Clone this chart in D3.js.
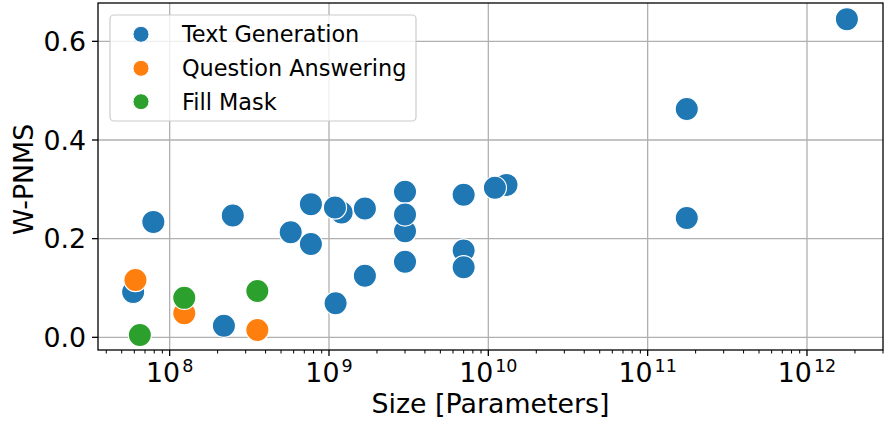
<!DOCTYPE html>
<html>
<head>
<meta charset="utf-8">
<script src="https://cdn.jsdelivr.net/npm/d3@7"></script>
<style>
  html, body { margin: 0; padding: 0; background: #ffffff; }
  svg { display: block; font-family: "DejaVu Sans", sans-serif; }
</style>
</head>
<body>
<svg id="chart" width="884" height="423"></svg>
<script>
// Model size (parameters) vs. W-PNMS score, grouped by task
const taskNames = ["Text Generation", "Question Answering", "Fill Mask"];
const taskColors = ["#1f77b4", "#ff7f0e", "#2ca02c"];

const textGenSize  = [1.78e12, 1.76e11, 1.76e11, 1.3e10, 1.1e10, 7.0e9, 7.0e9, 7.0e9,
                      3.0e9, 3.0e9, 3.0e9, 3.0e9, 7.9e7, 2.49e8, 5.75e8, 7.7e8, 7.7e8,
                      1.2e9, 1.09e9, 1.68e9, 1.68e9, 1.1e9, 2.19e8, 5.9e7];
const textGenScore = [0.645, 0.463, 0.242, 0.309, 0.303, 0.289, 0.176, 0.142,
                      0.295, 0.215, 0.249, 0.153, 0.234, 0.247, 0.213, 0.270, 0.189,
                      0.253, 0.263, 0.261, 0.125, 0.069, 0.0235, 0.092];

const qaSize  = [6.1e7, 1.235e8, 3.55e8];
const qaScore = [0.116, 0.0486, 0.0148];

const fillMaskSize  = [6.5e7, 1.235e8, 3.55e8];
const fillMaskScore = [0.0047, 0.080, 0.094];

const xLimits = [3.55e7, 3.0e12];
const yLimits = [-0.0257, 0.6777];
const xMajorTicks = [1e8, 1e9, 1e10, 1e11, 1e12];
const yTicks = [0.0, 0.2, 0.4, 0.6];

const xLabel = "Size [Parameters]";
const yLabel = "W-PNMS";

const series = [
  { name: taskNames[0], color: taskColors[0], size: textGenSize, score: textGenScore },
  { name: taskNames[1], color: taskColors[1], size: qaSize, score: qaScore },
  { name: taskNames[2], color: taskColors[2], size: fillMaskSize, score: fillMaskScore }
];

const plot = { left: 98, right: 883, top: 3, bottom: 350 };
const svg = d3.select("#chart");

const x = d3.scaleLog().domain(xLimits).range([plot.left, plot.right]);
const y = d3.scaleLinear().domain(yLimits).range([plot.bottom, plot.top]);

const gridColor = "#b0b0b0";
const fontSize = 26.8;

// grid
const grid = svg.append("g");
grid.selectAll("line.gx").data(xMajorTicks).join("line")
  .attr("x1", d => x(d)).attr("x2", d => x(d))
  .attr("y1", plot.top).attr("y2", plot.bottom)
  .attr("stroke", gridColor).attr("stroke-width", 1.3);
grid.selectAll("line.gy").data(yTicks).join("line")
  .attr("x1", plot.left).attr("x2", plot.right)
  .attr("y1", d => y(d)).attr("y2", d => y(d))
  .attr("stroke", gridColor).attr("stroke-width", 1.3);

// minor ticks on log axis
const minorTicks = [];
for (let e = 7; e <= 12; e++) {
  for (let m = 2; m <= 9; m++) {
    const v = m * Math.pow(10, e);
    if (v >= xLimits[0] && v <= xLimits[1]) minorTicks.push(v);
  }
}

// x axis
const xAxis = svg.append("g").attr("transform", `translate(0,${plot.bottom})`);
xAxis.selectAll("line.minor").data(minorTicks).join("line")
  .attr("x1", d => x(d)).attr("x2", d => x(d))
  .attr("y1", 0).attr("y2", 3.5)
  .attr("stroke", "#000").attr("stroke-width", 1);
xAxis.selectAll("line.major").data(xMajorTicks).join("line")
  .attr("x1", d => x(d)).attr("x2", d => x(d))
  .attr("y1", 0).attr("y2", 6)
  .attr("stroke", "#000").attr("stroke-width", 1.3);
const xt = xAxis.selectAll("text").data(xMajorTicks).join("text")
  .attr("x", d => x(d)).attr("y", 31.7)
  .attr("text-anchor", "middle")
  .attr("font-size", fontSize).attr("fill", "#000");
xt.append("tspan").text("10");
xt.append("tspan").attr("dy", -10).attr("dx", 2).attr("font-size", 17.5)
  .text(d => Math.round(Math.log10(d)));

// y axis
const yAxis = svg.append("g").attr("transform", `translate(${plot.left},0)`);
yAxis.selectAll("line").data(yTicks).join("line")
  .attr("x1", -6).attr("x2", 0)
  .attr("y1", d => y(d)).attr("y2", d => y(d))
  .attr("stroke", "#000").attr("stroke-width", 1.3);
yAxis.selectAll("text").data(yTicks).join("text")
  .attr("x", -12).attr("y", d => y(d))
  .attr("dy", "0.36em")
  .attr("text-anchor", "end")
  .attr("font-size", fontSize).attr("fill", "#000")
  .text(d => d3.format(".1f")(d));

// axis labels
svg.append("text")
  .attr("x", (plot.left + plot.right) / 2).attr("y", 413.3)
  .attr("text-anchor", "middle").attr("font-size", fontSize).attr("fill", "#000")
  .text(xLabel);
svg.append("text")
  .attr("transform", `translate(33,${(plot.top + plot.bottom) / 2 + 3}) rotate(-90)`)
  .attr("text-anchor", "middle").attr("font-size", fontSize).attr("fill", "#000")
  .text(yLabel);

// points
const pts = svg.append("g");
series.forEach(s => {
  const rows = s.size.map((v, i) => ({ size: v, score: s.score[i] }));
  pts.append("g").selectAll("circle").data(rows).join("circle")
    .attr("cx", d => x(d.size)).attr("cy", d => y(d.score))
    .attr("r", 11.6)
    .attr("fill", s.color)
    .attr("stroke", "#fff").attr("stroke-width", 1.2);
});

// frame
svg.append("rect")
  .attr("x", plot.left).attr("y", plot.top)
  .attr("width", plot.right - plot.left).attr("height", plot.bottom - plot.top)
  .attr("fill", "none").attr("stroke", "#000").attr("stroke-width", 1.3);

// legend
const legend = svg.append("g");
legend.append("rect")
  .attr("x", 110).attr("y", 15).attr("width", 306).attr("height", 106)
  .attr("rx", 4).attr("ry", 4)
  .attr("fill", "#fff").attr("fill-opacity", 0.8)
  .attr("stroke", "#cccccc").attr("stroke-width", 1.2);
const rowsY = [34.3, 68.3, 101.7];
const item = legend.selectAll("g.item").data(series).join("g")
  .attr("transform", (d, i) => `translate(0,${rowsY[i]})`);
item.append("circle")
  .attr("cx", 141).attr("cy", 0).attr("r", 8)
  .attr("fill", d => d.color).attr("stroke", "#fff").attr("stroke-width", 1);
item.append("text")
  .attr("x", 182).attr("y", 0).attr("dy", "0.36em")
  .attr("font-size", 22.4).attr("fill", "#000")
  .text(d => d.name);
</script>
</body>
</html>
